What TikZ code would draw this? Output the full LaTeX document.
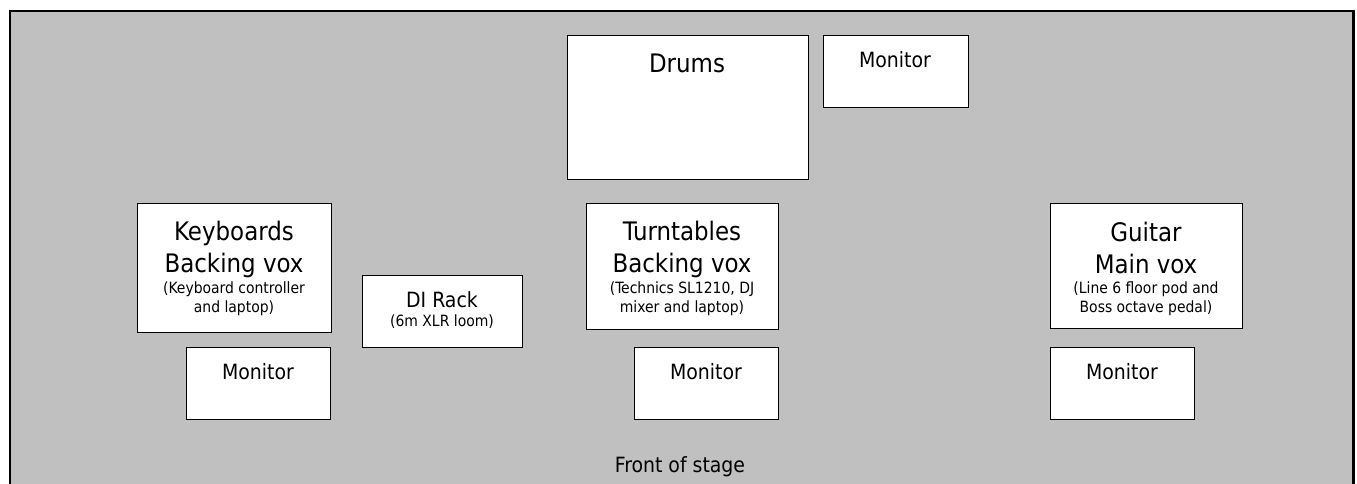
\documentclass[tikz,border=0pt]{standalone}
\usepackage{fontspec}
\setmainfont{DejaVu Sans Condensed}
\definecolor{stagegray}{HTML}{C0C0C0}
\tikzset{
  stagebox/.style={draw=black, line width=1.4pt, fill=white, rectangle, inner sep=0pt, anchor=north west},
  bigtxt/.style={font=\fontsize{25.5}{30}\selectfont, anchor=base, inner sep=0pt},
  medtxt/.style={font=\fontsize{21}{25}\selectfont, anchor=base, inner sep=0pt},
  smalltxt/.style={font=\fontsize{15.5}{19}\selectfont, anchor=base, inner sep=0pt}
}
\begin{document}
\begin{tikzpicture}[x=1pt,y=-1pt]
\useasboundingbox (0,0) rectangle (1357,483);
\clip (0,0) rectangle (1357,483);
\fill[white] (0,0) rectangle (1357,483);
\draw[line width=2.2pt, fill=stagegray] (10,11) rectangle (1353.5,520);
% boxes
\node[stagebox, minimum width=241pt, minimum height=144pt] (drums) at (567,35) {};
\node[stagebox, minimum width=145pt, minimum height=72pt] (mondrum) at (823,35) {};
\node[stagebox, minimum width=194pt, minimum height=129pt] (keys) at (137,203) {};
\node[stagebox, minimum width=160pt, minimum height=72pt] (di) at (362,275) {};
\node[stagebox, minimum width=144pt, minimum height=72pt] (monkeys) at (186,347) {};
\node[stagebox, minimum width=192pt, minimum height=126pt] (turn) at (586,203) {};
\node[stagebox, minimum width=144pt, minimum height=72pt] (monturn) at (634,347) {};
\node[stagebox, minimum width=192pt, minimum height=125pt] (guitar) at (1050,203) {};
\node[stagebox, minimum width=144pt, minimum height=72pt] (mongtr) at (1050,347) {};
% texts
\node[bigtxt] (tdrums) at (687,72) {Drums};
\node[medtxt] (tmondrum) at (895,67) {Monitor};
\node[bigtxt] (tkeys1) at (234,240.5) {Keyboards};
\node[bigtxt] (tkeys2) at (234,272.5) {Backing vox};
\node[smalltxt] (tkeys3) at (234,293) {(Keyboard controller};
\node[smalltxt] (tkeys4) at (234,312) {and laptop)};
\node[medtxt] (tdi1) at (442,307) {DI Rack};
\node[smalltxt] (tdi2) at (442,326) {(6m XLR loom)};
\node[medtxt] (tmonkeys) at (258,379) {Monitor};
\node[bigtxt] (tturn1) at (682,240.5) {Turntables};
\node[bigtxt] (tturn2) at (682,272.5) {Backing vox};
\node[smalltxt] (tturn3) at (682,293) {(Technics SL1210, DJ};
\node[smalltxt] (tturn4) at (682,312) {mixer and laptop)};
\node[medtxt] (tmonturn) at (706,379) {Monitor};
\node[bigtxt] (tgtr1) at (1146,241) {Guitar};
\node[bigtxt] (tgtr2) at (1146,273) {Main vox};
\node[smalltxt] (tgtr3) at (1146,293) {(Line 6 floor pod and};
\node[smalltxt] (tgtr4) at (1146,312.5) {Boss octave pedal)};
\node[medtxt] (tmongtr) at (1122,379) {Monitor};
\node[medtxt] (tfront) at (680,472) {Front of stage};
\end{tikzpicture}
\end{document}
